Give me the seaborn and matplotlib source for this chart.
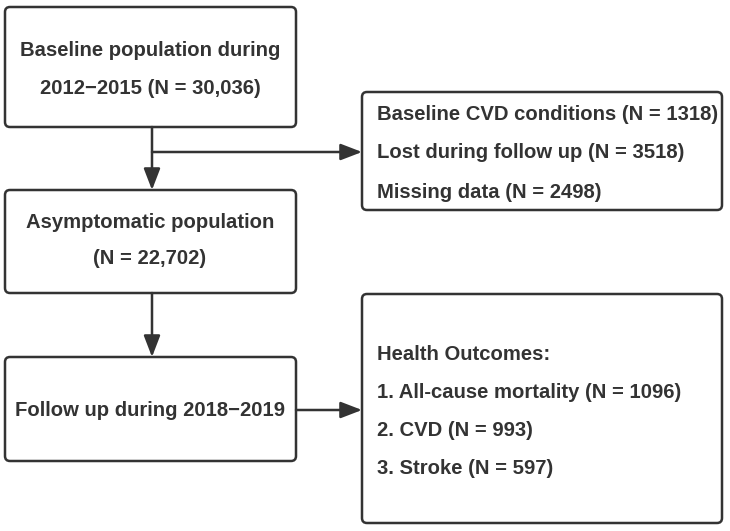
import matplotlib.pyplot as plt
from matplotlib.patches import FancyBboxPatch
import seaborn as sns

# Flowchart content
baseline_lines = ["Baseline population during", "2012\u22122015 (N = 30,036)"]
asymptomatic_lines = ["Asymptomatic population", "(N = 22,702)"]
followup_lines = ["Follow up during 2018\u22122019"]
excluded_labels = ["Baseline CVD conditions", "Lost during follow up", "Missing data"]
excluded_n = [1318, 3518, 2498]
outcome_labels = ["All-cause mortality", "CVD", "Stroke"]
outcome_n = [1096, 993, 597]

sns.set_theme(style="white")
plt.rcParams['font.family'] = ['Liberation Sans', 'DejaVu Sans']

col = "#333333"
fs = 14.6

fig = plt.figure(figsize=(7.3, 5.31), dpi=100)
ax = fig.add_axes([0, 0, 1, 1])
ax.set_xlim(0, 730)
ax.set_ylim(531, 0)
ax.axis('off')


def box(x0, y0, x1, y1):
    ax.add_patch(FancyBboxPatch((x0, y0), x1 - x0, y1 - y0,
                                boxstyle="round,pad=0,rounding_size=5",
                                fc="white", ec=col, lw=1.8, zorder=2))


def arrow(x0, y0, x1, y1):
    ax.annotate("", xy=(x1, y1), xytext=(x0, y0),
                arrowprops=dict(arrowstyle="-|>,head_length=0.65,head_width=0.25",
                                mutation_scale=20, color=col, lw=1.8,
                                shrinkA=0, shrinkB=0), zorder=3)


# left column boxes
box(5, 7, 296, 127)
box(5, 190, 296, 293)
box(5, 357, 296, 461)
# right column boxes
box(362, 92, 722, 210)
box(362, 294, 722, 523)

# arrows
arrow(152, 127, 152, 190)
arrow(152, 152, 362, 152)
arrow(152, 293, 152, 357)
arrow(296, 410, 362, 410)

# centred texts
for txt, y in zip(baseline_lines, [50, 88]):
    ax.text(150, y, txt, ha="center", va="center", fontsize=fs, fontweight="bold", color=col)
for txt, y in zip(asymptomatic_lines, [223, 258]):
    ax.text(150, y, txt, ha="center", va="center", fontsize=fs, fontweight="bold", color=col)
ax.text(150, 410, followup_lines[0], ha="center", va="center", fontsize=fs, fontweight="bold", color=col)

# exclusion box
for lab, n, y in zip(excluded_labels, excluded_n, [115, 153, 192]):
    ax.text(377, y, f"{lab} (N = {n})", ha="left", va="center", fontsize=fs,
            fontweight="bold", color=col, zorder=4)

# outcomes box
ax.text(377, 355, "Health Outcomes:", ha="left", va="center", fontsize=fs, fontweight="bold", color=col)
for i, (lab, n) in enumerate(zip(outcome_labels, outcome_n)):
    ax.text(377, 393 + i * 37.5, f"{i + 1}. {lab} (N = {n})", ha="left", va="center",
            fontsize=fs, fontweight="bold", color=col)

fig.savefig("out.png", dpi=100, facecolor="white")
